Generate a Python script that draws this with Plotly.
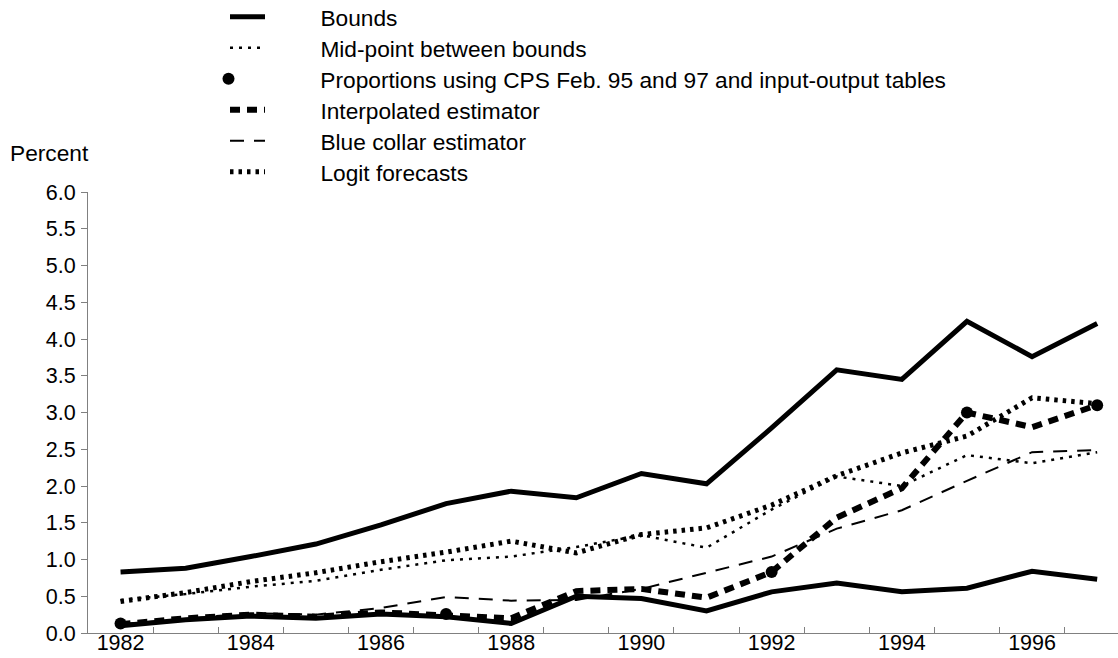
import plotly.graph_objects as go

years = list(range(1982, 1998))
bounds_upper = [0.83, 0.88, 1.04, 1.21, 1.47, 1.76, 1.93, 1.84, 2.17, 2.03, 2.79, 3.58, 3.45, 4.24, 3.76, 4.21]
bounds_lower = [0.10, 0.18, 0.23, 0.20, 0.26, 0.22, 0.13, 0.50, 0.47, 0.30, 0.56, 0.68, 0.56, 0.61, 0.84, 0.73]
midpoint = [0.45, 0.53, 0.63, 0.71, 0.86, 0.99, 1.04, 1.17, 1.33, 1.16, 1.68, 2.13, 2.00, 2.42, 2.31, 2.46]
prop_years = [1982, 1987, 1992, 1995, 1997]
proportions = [0.13, 0.26, 0.83, 3.00, 3.10]
interpolated = [0.12, 0.20, 0.25, 0.22, 0.28, 0.25, 0.20, 0.57, 0.60, 0.48, 0.83, 1.57, 1.97, 3.00, 2.80, 3.10]
blue_collar = [0.12, 0.20, 0.27, 0.25, 0.34, 0.49, 0.44, 0.45, 0.60, 0.82, 1.04, 1.42, 1.67, 2.07, 2.46, 2.49]
logit = [0.43, 0.55, 0.70, 0.82, 0.97, 1.10, 1.25, 1.09, 1.34, 1.43, 1.74, 2.14, 2.45, 2.68, 3.20, 3.12]

label_years = list(range(1982, 1998, 2))
minor_ticks = [y + 0.5 for y in range(1981, 1998)]
y_ticks = [i * 0.5 for i in range(13)]

FONT = "Liberation Sans, Arial, Helvetica, sans-serif"
FS_LEG = 22.7
FS_TICK = 21.5
PAD = "\u00a0" * 8
PAD_DOT = "\u00a0" * 11
fig = go.Figure()

fig.add_trace(go.Scatter(x=years, y=bounds_upper, mode="lines", name=PAD + "Bounds",
                         line=dict(color="black", width=5), legend="legend"))
fig.add_trace(go.Scatter(x=years, y=bounds_lower, mode="lines", name=PAD + "Bounds",
                         line=dict(color="black", width=5), showlegend=False, legend="legend"))
fig.add_trace(go.Scatter(x=years, y=midpoint, mode="lines", name=PAD + "Mid-point between bounds",
                         line=dict(color="black", width=2.5, dash="3px,6px"), legend="legend2"))
fig.add_trace(go.Scatter(x=prop_years, y=proportions, mode="markers",
                         name=PAD_DOT + "Proportions using CPS Feb. 95 and 97 and input-output tables",
                         marker=dict(color="black", size=12), legend="legend3"))
fig.add_trace(go.Scatter(x=years, y=interpolated, mode="lines", name=PAD + "Interpolated estimator",
                         line=dict(color="black", width=6, dash="10px,7px"), legend="legend4"))
fig.add_trace(go.Scatter(x=years, y=blue_collar, mode="lines", name=PAD + "Blue collar estimator",
                         line=dict(color="black", width=2, dash="14px,10px"), legend="legend5"))
fig.add_trace(go.Scatter(x=years, y=logit, mode="lines", name=PAD + "Logit forecasts",
                         line=dict(color="black", width=5, dash="3.5px,5px"), legend="legend6"))

# invisible trace to carry the axis-line / minor-tick axis
fig.add_trace(go.Scatter(x=[1982], y=[0], xaxis="x2", mode="markers",
                         marker=dict(opacity=0), showlegend=False, hoverinfo="skip"))


def legend_row(yc, xl=225):
    return dict(xref="container", yref="container", x=xl / 1118, y=1 - yc / 658,
                xanchor="left", yanchor="middle",
                font=dict(family=FONT, size=FS_LEG, color="black"),
                bgcolor="rgba(0,0,0,0)", itemwidth=35)


XR = [1981.5, 1997.32]
fig.update_layout(
    width=1118, height=658,
    margin=dict(l=88, r=0, t=192, b=25, autoexpand=False),
    paper_bgcolor="white", plot_bgcolor="white",
    font=dict(family=FONT, size=FS_TICK, color="black"),
    showlegend=True,
    legend=legend_row(17), legend2=legend_row(48), legend3=legend_row(79, 206),
    legend4=legend_row(110), legend5=legend_row(141), legend6=legend_row(172),
    xaxis=dict(range=XR, tickvals=label_years, ticktext=[str(y) for y in label_years],
               anchor="free", position=6 / 441,
               showgrid=False, zeroline=False, showline=False,
               ticks="", ticklen=0, automargin=False,
               tickfont=dict(family=FONT, size=FS_TICK, color="black")),
    xaxis2=dict(range=XR, overlaying="x", anchor="y", side="bottom",
                tickvals=minor_ticks, showticklabels=False, ticks="inside", ticklen=6,
                tickcolor="#808080", showgrid=False, zeroline=False,
                showline=True, linecolor="#808080", linewidth=1,
                automargin=False),
    yaxis=dict(range=[0, 6], tickvals=y_ticks, ticktext=[f"{v:.1f}" for v in y_ticks],
               showgrid=False, zeroline=False, showline=True, linecolor="#808080", linewidth=1,
               ticks="outside", ticklen=6, tickcolor="#808080", ticklabelstandoff=1,
               automargin=False,
               tickfont=dict(family=FONT, size=FS_TICK, color="black")),
    annotations=[dict(text="Percent", xref="paper", yref="paper", x=-0.0777, y=1.088,
                      xanchor="left", yanchor="middle", showarrow=False,
                      font=dict(family=FONT, size=FS_LEG, color="black"))],
)

fig.write_html("out.html", config={"displayModeBar": False},
               post_script="document.body.style.margin='0';document.body.style.overflow='hidden';")
